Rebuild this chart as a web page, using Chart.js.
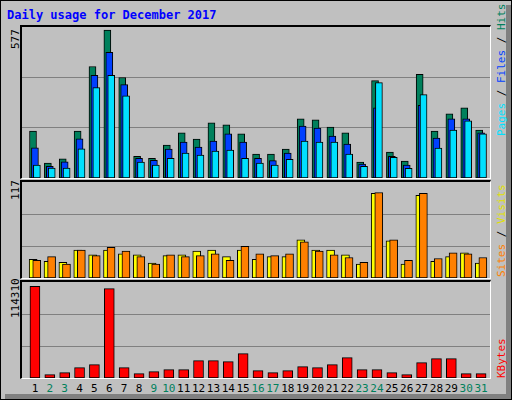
<!DOCTYPE html>
<html>
<head>
<meta charset="utf-8">
<script src="https://cdn.jsdelivr.net/npm/chart.js@4/dist/chart.umd.min.js"></script>
<style>
  body { margin: 0; background: #fff; }
  #wrap { position: relative; width: 510px; height: 398px; background: #c0c0c0;
          border: 1px solid #000; font-family: "DejaVu Sans Mono", monospace; }
  .shadowR { position: absolute; right: 0; top: 4px; width: 5px; bottom: 0; background: #808080; }
  .shadowB { position: absolute; left: 4px; bottom: 0; height: 5px; right: 0; background: #808080; }
  .panel { position: absolute; left: 19px; width: 471px; border-top: 2px solid #000; border-left: 2px solid #000;
           border-right: 1px solid #fff; border-bottom: 1px solid #fff; box-sizing: border-box; }
  .panel canvas { display: block; }
  .title { position: absolute; left: 6px; top: 7px; font-size: 12px; font-weight: bold; color: #0000ff; }
  .vlab { position: absolute; font-size: 11px; white-space: nowrap; transform-origin: left top; transform: rotate(-90deg); }
  .xlab { position: absolute; top: 381px; font-size: 11px; transform: translateX(-50%); }
</style>
</head>
<body>
<div id="wrap">
  <div class="shadowR"></div><div class="shadowB"></div>
  <div class="title">Daily usage for December 2017</div>
  <div class="panel" style="top:24px;height:154px"><canvas id="c1" width="468" height="151"></canvas></div>
  <div class="panel" style="top:179px;height:99px"><canvas id="c2" width="468" height="96"></canvas></div>
  <div class="panel" style="top:279px;height:99px"><canvas id="c3" width="468" height="96"></canvas></div>
  <div class="vlab" style="left:8px;top:48px">577</div>
  <div class="vlab" style="left:8px;top:199px">117</div>
  <div class="vlab" style="left:8px;top:317px">114310</div>
  <div class="vlab" style="left:494px;top:135px"><span style="color:#00e0ff">Pages</span> / <span style="color:#0040ff">Files</span> / <span style="color:#00805c">Hits</span></div>
  <div class="vlab" style="left:494px;top:276px"><span style="color:#ff8000">Sites</span> / <span style="color:#e0e000">Visits</span></div>
  <div class="vlab" style="left:494px;top:377px;color:#ff0000">KBytes</div>
  <div id="xl"></div>
</div>
<script>
const days = Array.from({length: 31}, (_, i) => i + 1);
const weekends = [2, 3, 9, 10, 16, 17, 23, 24, 30, 31];

const hits  = [183, 58, 75, 183, 435, 577, 392, 85, 77, 128, 176, 152, 215, 207, 172, 93, 93, 113, 231, 227, 199, 176, 62, 380, 101, 66, 404, 183, 250, 274, 187];
const files = [118, 46, 63, 153, 400, 490, 364, 77, 69, 113, 140, 121, 144, 172, 140, 77, 68, 97, 203, 195, 164, 132, 54, 274, 85, 50, 283, 156, 231, 231, 176];
const pages = [50, 39, 39, 114, 353, 400, 321, 62, 50, 77, 97, 89, 105, 109, 77, 58, 50, 73, 144, 140, 140, 93, 46, 372, 81, 38, 325, 117, 187, 223, 172];
const visits = [23.6, 21.3, 20, 35.5, 29.6, 35.5, 30.7, 29.6, 18.9, 28.4, 29.6, 34.3, 35.5, 27.2, 35.5, 23.6, 27.2, 27.2, 48.5, 35.5, 35.5, 29.6, 17.7, 107.6, 47.3, 17.7, 105, 21.3, 27.2, 31.9, 18.9];
const sites  = [22.5, 27.2, 17.7, 35.5, 28.4, 39, 34.3, 27.2, 17.7, 29.6, 27.2, 28.4, 30.7, 22.5, 40.2, 30.7, 28.4, 30.7, 46, 34.3, 29.6, 26, 20, 108.7, 48.5, 22.5, 107.6, 24.8, 31.9, 30.7, 26];
const kbytes = [114310, 4157, 6651, 12887, 16628, 111400, 12887, 5404, 7898, 10393, 10393, 21616, 21616, 20369, 30346, 9145, 6651, 9145, 14134, 12887, 16628, 25358, 10393, 10393, 6651, 4157, 19122, 24111, 24111, 5404, 5404];

function ds(values, shift, color, width) {
  return {
    data: values.map((v, i) => ({ x: days[i] + shift, y: v })),
    backgroundColor: color, borderColor: '#000', borderWidth: 1,
    barThickness: width, borderSkipped: false, grouped: false
  };
}

function makeChart(id, datasets, max) {
  return new Chart(document.getElementById(id), {
    type: 'bar',
    data: { datasets },
    options: {
      responsive: false, animation: false,
      layout: { padding: 0 },
      plugins: { legend: { display: false }, tooltip: { enabled: false } },
      scales: {
        x: { type: 'linear', offset: false, min: 0.13, max: 31.6, display: false },
        y: {
          min: 0, max: max,
          afterBuildTicks: s => { s.ticks = [{ value: max / 3 }, { value: 2 * max / 3 }]; },
          ticks: { display: false },
          border: { display: false },
          grid: { color: '#808080', lineWidth: 1, drawTicks: false }
        }
      }
    }
  });
}

makeChart('c1', [
  ds(pages, 0.13, '#00e0ff', 7),
  ds(files, 0, '#0040ff', 7),
  ds(hits, -0.13, '#00805c', 7)
], 589);

makeChart('c2', [
  ds(sites, 0.12, '#ff8000', 8),
  ds(visits, -0.12, '#ffff00', 8)
], 122);

const c3 = makeChart('c3', [ds(kbytes, 0, '#ff0000', 10)], 119700);

const xl = document.getElementById('xl');
days.forEach(d => {
  const el = document.createElement('div');
  el.className = 'xlab';
  el.textContent = d;
  el.style.color = weekends.includes(d) ? '#00805c' : '#000';
  el.style.left = (21 + c3.scales.x.getPixelForValue(d)) + 'px';
  xl.appendChild(el);
});
</script>
</body>
</html>
